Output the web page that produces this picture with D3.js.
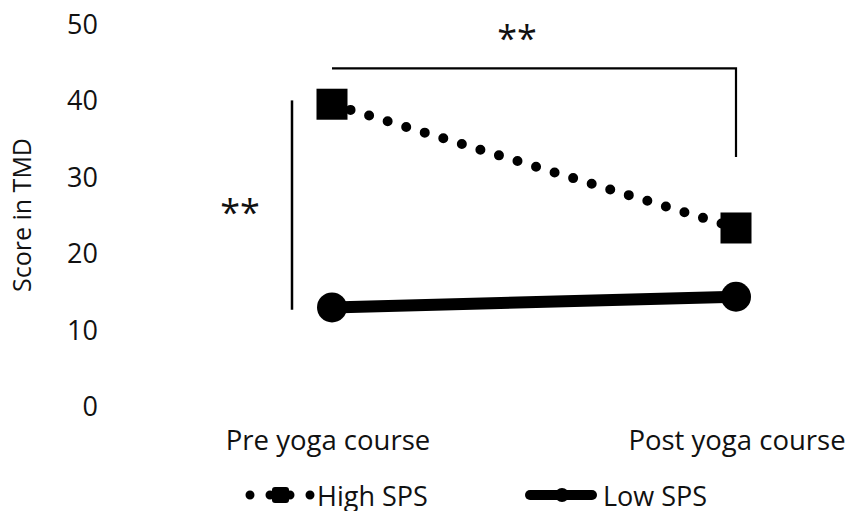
<!DOCTYPE html>
<html>
<head>
<meta charset="utf-8">
<script src="https://cdn.jsdelivr.net/npm/d3@7"></script>
<style>
  body { margin: 0; background: #fff; }
  text { font-family: "Open Sans", "Noto Sans", sans-serif; fill: #111; }
</style>
</head>
<body>
<div id="chart"></div>
<script>
// 資料
const categories = ["Pre yoga course", "Post yoga course"];
const highSPS = [39.5, 23.3];
const lowSPS = [12.9, 14.3];
const yTicks = [0, 10, 20, 30, 40, 50];
// 顯著性標記 (**)
const bracketTop = { from: 0, to: 1, level: 44.2, drop: 32.6, label: "**" };
const bracketLeft = { low: 12.6, high: 40, label: "**" };

const width = 847, height = 511;

const svg = d3.select("#chart")
    .append("svg")
    .attr("width", width)
    .attr("height", height);

// 比例尺
const x = d3.scalePoint()
    .domain(categories)
    .range([332, 736]);

const y = d3.scaleLinear()
    .domain([0, 50])
    .range([406, 24]);

// y 軸 (只有文字)
const yAxis = svg.append("g")
    .attr("transform", "translate(98,0)")
    .call(d3.axisLeft(y).tickValues(yTicks).tickSize(0).tickPadding(0));
yAxis.select(".domain").remove();
yAxis.selectAll("text")
    .style("font-family", "'Open Sans', sans-serif")
    .style("font-size", "27px")
    .attr("fill", "#111")
    .attr("dy", "0.35em");

// y 軸標題
svg.append("text")
    .attr("transform", "translate(31,215) rotate(-90)")
    .attr("text-anchor", "middle")
    .style("font-size", "25px")
    .text("Score in TMD");

// x 軸文字
svg.selectAll(".cat")
    .data(categories)
    .enter()
    .append("text")
    .attr("class", "cat")
    .attr("x", (d, i) => x(d) + (i === 0 ? -4 : 1))
    .attr("y", 450)
    .attr("text-anchor", "middle")
    .style("font-size", "27.5px")
    .text(d => d);

// 顯著性括號
const bx0 = x(categories[bracketTop.from]);
const bx1 = x(categories[bracketTop.to]);
svg.append("path")
    .attr("d", `M${bx0},${y(bracketTop.level)}H${bx1}V${y(bracketTop.drop)}`)
    .attr("fill", "none")
    .attr("stroke", "#000")
    .attr("stroke-width", 2.2);
svg.append("text")
    .attr("x", 517)
    .attr("y", 51)
    .attr("text-anchor", "middle")
    .style("font-size", "36px")
    .text(bracketTop.label);

svg.append("line")
    .attr("x1", 292).attr("x2", 292)
    .attr("y1", y(bracketLeft.high))
    .attr("y2", y(bracketLeft.low))
    .attr("stroke", "#000")
    .attr("stroke-width", 2.5);
svg.append("text")
    .attr("x", 240)
    .attr("y", 225)
    .attr("text-anchor", "middle")
    .style("font-size", "36px")
    .text(bracketLeft.label);

// 線
const line = d3.line()
    .x((d, i) => x(categories[i]))
    .y(d => y(d));

svg.append("path")
    .datum(lowSPS)
    .attr("d", line)
    .attr("fill", "none")
    .attr("stroke", "#000")
    .attr("stroke-width", 12);

svg.append("path")
    .datum(highSPS)
    .attr("d", line)
    .attr("fill", "none")
    .attr("stroke", "#000")
    .attr("stroke-width", 10)
    .attr("stroke-linecap", "round")
    .attr("stroke-dasharray", "0 19.4");

// 標記
svg.selectAll(".sq")
    .data(highSPS)
    .enter()
    .append("rect")
    .attr("class", "sq")
    .attr("x", (d, i) => x(categories[i]) - 15.5)
    .attr("y", d => y(d) - 15.5)
    .attr("width", 31)
    .attr("height", 31)
    .attr("fill", "#000");

svg.selectAll(".dot")
    .data(lowSPS)
    .enter()
    .append("circle")
    .attr("class", "dot")
    .attr("cx", (d, i) => x(categories[i]))
    .attr("cy", d => y(d))
    .attr("r", 15)
    .attr("fill", "#000");

// 圖例
const legend = svg.append("g").attr("transform", "translate(0,495)");
legend.append("line")
    .attr("x1", 250).attr("x2", 311)
    .attr("stroke", "#000").attr("stroke-width", 9)
    .attr("stroke-linecap", "round")
    .attr("stroke-dasharray", "0 20");
legend.append("rect")
    .attr("x", 272).attr("y", -8).attr("width", 17).attr("height", 16)
    .attr("rx", 3)
    .attr("fill", "#000");
legend.append("text")
    .attr("x", 317).attr("y", 11)
    .style("font-size", "27px")
    .text("High SPS");

legend.append("line")
    .attr("x1", 530).attr("x2", 592)
    .attr("stroke", "#000").attr("stroke-width", 10)
    .attr("stroke-linecap", "round");
legend.append("circle")
    .attr("cx", 562).attr("r", 7)
    .attr("fill", "#000");
legend.append("text")
    .attr("x", 603).attr("y", 11)
    .style("font-size", "27px")
    .text("Low SPS");
</script>
</body>
</html>
